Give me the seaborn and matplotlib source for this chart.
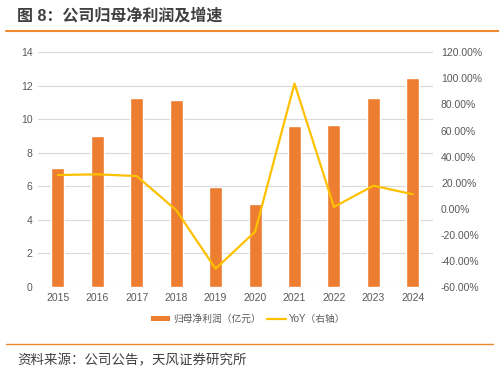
import numpy as np
import pandas as pd
import matplotlib
matplotlib.use("Agg")
import matplotlib.pyplot as plt
import seaborn as sns
from matplotlib.patches import Patch
from matplotlib.lines import Line2D
from matplotlib.ticker import FuncFormatter

# 数据
years = ["2015", "2016", "2017", "2018", "2019", "2020", "2021", "2022", "2023", "2024"]
profit = [7.12, 8.99, 11.26, 11.14, 5.98, 4.93, 9.62, 9.64, 11.29, 12.49]  # 亿元
yoy = [25.9, 26.4, 25.1, -1.0, -46.0, -17.6, 96.0, 1.4, 17.7, 11.1]  # %

sns.set_theme(style="white")
plt.rcParams['font.family'] = ['Liberation Sans', 'Noto Sans CJK SC', 'DejaVu Sans']

bar_color = "#ED7D31"
line_color = "#FFC000"
grid_color = "#D9D9D9"
txt_color = "#595959"

fig = plt.figure(figsize=(4.99, 3.72), dpi=100)
ax = fig.add_axes([0.0762, 0.2285, 0.7908, 0.6309])

df = pd.DataFrame({"year": years, "profit": profit, "yoy": yoy})
sns.barplot(data=df, x="year", y="profit", color=bar_color, width=0.33,
            saturation=1, ax=ax, zorder=2)
ax.set_xlim(-0.5, len(years) - 0.5)
ax.set_ylim(0, 14)
ax.set_yticks(range(0, 15, 2))
ax.yaxis.grid(True, color=grid_color, linewidth=0.8)
ax.set_axisbelow(True)
ax.set_xlabel("")
ax.set_ylabel("")
ax.tick_params(axis="both", length=0, labelsize=7.5, colors=txt_color, pad=4)

ax2 = ax.twinx()
sns.lineplot(x=np.arange(len(years)), y=df["yoy"], color=line_color,
             linewidth=1.6, ax=ax2, zorder=3)
ax2.set_ylim(-60, 120)
ax2.set_yticks(range(-60, 121, 20))
ax2.yaxis.set_major_formatter(FuncFormatter(lambda v, p: f"{v:.2f}%"))
ax2.set_ylabel("")
ax2.tick_params(axis="y", length=0, labelsize=7.5, colors=txt_color, pad=6)
ax2.set_xlim(-0.5, len(years) - 0.5)

for a in (ax, ax2):
    for s in a.spines.values():
        s.set_visible(False)

handles = [Patch(facecolor=bar_color, edgecolor="none"),
           Line2D([0], [0], color=line_color, linewidth=1.6)]
fig.legend(handles, ["归母净利润（亿元）", "YoY（右轴）"], loc="center",
           bbox_to_anchor=(0.497, 0.142), ncol=2, frameon=False, fontsize=7,
           labelcolor=txt_color, handlelength=2.0, handleheight=0.5,
           columnspacing=0.6, handletextpad=0.3)

# 标题与来源
fig.text(0.034, 0.958, "图 8：公司归母净利润及增速", fontsize=11.5, fontweight="bold",
         color="#404040", va="center", ha="left")
fig.add_artist(Line2D([0.012, 1.0], [1 - 30.7 / 372] * 2, color="#F0892E", linewidth=1.5))
fig.add_artist(Line2D([0.012, 0.988], [1 - 344.3 / 372] * 2, color="#F0892E", linewidth=1.0))
fig.text(0.034, 1 - 360.7 / 372, "资料来源：公司公告，天风证券研究所", fontsize=9.7,
         color="#404040", va="center", ha="left")

fig.savefig("out.png", dpi=100)
